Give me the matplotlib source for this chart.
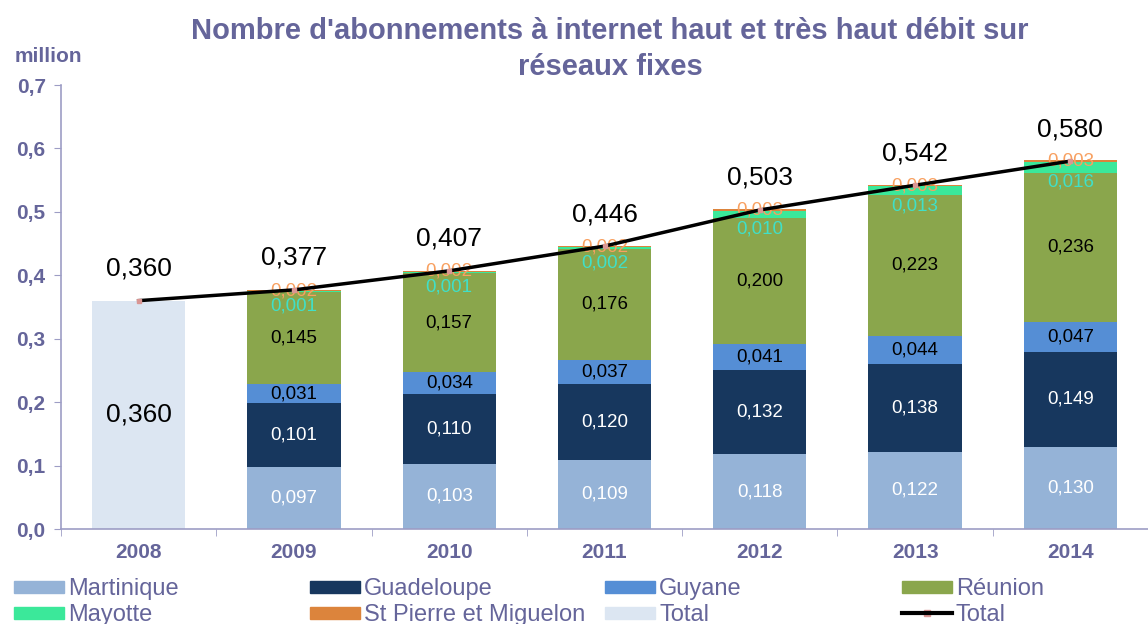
import matplotlib
matplotlib.use("Agg")
import matplotlib.pyplot as plt
from matplotlib.patches import Rectangle
from matplotlib.lines import Line2D
from matplotlib import font_manager
import numpy as np

plt.rcParams['font.family'] = ['Liberation Sans', 'DejaVu Sans']

years = ['2008', '2009', '2010', '2011', '2012', '2013', '2014']
total_2008 = 0.360
martinique = [0.097, 0.103, 0.109, 0.118, 0.122, 0.130]
guadeloupe = [0.101, 0.110, 0.120, 0.132, 0.138, 0.149]
guyane = [0.031, 0.034, 0.037, 0.041, 0.044, 0.047]
reunion = [0.145, 0.157, 0.176, 0.200, 0.223, 0.236]
mayotte = [0.001, 0.001, 0.002, 0.010, 0.013, 0.016]
spm = [0.002, 0.002, 0.002, 0.003, 0.003, 0.003]
total_line = [0.360, 0.377, 0.407, 0.446, 0.503, 0.542, 0.580]
legend_labels = ['Martinique', 'Guadeloupe', 'Guyane', 'Réunion',
                 'Mayotte', 'St Pierre et Miguelon', 'Total', 'Total']

c_mart = '#95B3D7'
c_guad = '#17375E'
c_guy = '#558ED5'
c_reu = '#8AA64C'
c_may = '#3BE89A'
c_spm = '#DC843C'
c_tot = '#DCE6F2'
purple = '#65659A'

names = {f.name for f in font_manager.fontManager.ttflist}
narrow = 'Liberation Sans Narrow' if 'Liberation Sans Narrow' in names else 'Liberation Sans'

fig = plt.figure(figsize=(11.48, 6.24), dpi=100)
ax = fig.add_axes([61/1148, (624-529)/624, (1148-61)/1148, (529-85)/624])

x = np.arange(len(years))
xs = x[1:]
w = 0.6

def fmt(v):
    return f"{v:.3f}".replace('.', ',')

ax.bar(x[0], total_2008, width=w, color=c_tot, zorder=2)
ax.text(x[0], 0.18, fmt(total_2008), ha='center', va='center', fontsize=19, color='black', zorder=5)

series = [
    (martinique, c_mart, 'white'),
    (guadeloupe, c_guad, 'white'),
    (guyane, c_guy, 'black'),
    (reunion, c_reu, 'black'),
    (mayotte, c_may, '#40E0C8'),
    (spm, c_spm, '#F8A060'),
]
bottom = np.zeros(len(xs))
for idx, (vals, col, tcol) in enumerate(series):
    vals = np.array(vals)
    ax.bar(xs, vals, width=w, bottom=bottom, color=col, zorder=2)
    for xi, b, v in zip(xs, bottom, vals):
        yc = b + v / 2
        if idx == 4:
            ax.annotate(fmt(v), (xi, yc), xytext=(0, -15), textcoords='offset pixels',
                        ha='center', va='center', fontsize=13.5, color=tcol, zorder=4)
        else:
            ax.text(xi, yc, fmt(v), ha='center', va='center', fontsize=13.5, color=tcol, zorder=4)
    bottom = bottom + vals

ax.plot(x, total_line, color='black', lw=2.5, zorder=6, marker='s', markersize=3,
        markerfacecolor='#D99694', markeredgecolor='#D99694')
for xi, v in zip(x, total_line):
    ax.annotate(fmt(v), (xi, v), xytext=(0, 32), textcoords='offset pixels',
                ha='center', va='center', fontsize=19, color='black', zorder=7)

ax.set_ylim(0, 0.7)
ax.set_xlim(-0.5, -0.5 + (1148 - 61) / 156.8)
yt = np.arange(0, 0.71, 0.1)
ax.set_yticks(yt)
ax.set_yticklabels([f"{v:.1f}".replace('.', ',') for v in yt],
                   fontsize=15, fontweight='bold', color=purple)
ax.set_xticks(x)
ax.set_xticklabels(years, fontsize=15, fontweight='bold', color=purple)
ax.set_xticks(np.arange(-0.5, 7, 1), minor=True)
ax.tick_params(axis='x', which='major', length=0, pad=10)
ax.tick_params(axis='x', which='minor', length=5, color='#9D9DC5', direction='out')
ax.tick_params(axis='y', length=5, color='#9D9DC5', direction='out', pad=6)
for s in ['top', 'right']:
    ax.spines[s].set_visible(False)
for s in ['left', 'bottom']:
    ax.spines[s].set_color('#9D9DC5')
    ax.spines[s].set_linewidth(1.2)

fig.text(15/1148, 1 - 57/624, 'million', fontsize=15, fontweight='bold', color=purple, ha='left', va='center')
fig.text(610/1148, 1 - 49/624, "Nombre d'abonnements à internet haut et très haut débit sur\nréseaux fixes",
         fontsize=21, fontweight='bold', color=purple, ha='center', va='center', linespacing=1.35)

# legend (manual placement, row-major as in the reference)
legend_colors = [c_mart, c_guad, c_guy, c_reu, c_may, c_spm, c_tot, None]
col_x = [14, 310, 605, 902]
row_y = [587, 613]
for i, (lab, col) in enumerate(zip(legend_labels, legend_colors)):
    r, c = divmod(i, 4)
    px, py = col_x[c], row_y[r]
    if col is not None:
        fig.patches.append(Rectangle((px / 1148, 1 - (py + 6) / 624), 50 / 1148, 12 / 624,
                                     transform=fig.transFigure, color=col, figure=fig))
    else:
        fig.lines.append(Line2D([px / 1148, (px + 50) / 1148], [1 - py / 624, 1 - py / 624],
                                transform=fig.transFigure, color='black', lw=3, figure=fig))
        fig.patches.append(Rectangle(((px + 22) / 1148, 1 - (py + 3) / 624), 6 / 1148, 6 / 624,
                                     transform=fig.transFigure, color='#D99694', figure=fig))
    fig.text((px + 54) / 1148, 1 - (py + 2) / 624, lab, fontsize=17, color=purple,
             family=[narrow, 'DejaVu Sans'], ha='left', va='center')

fig.savefig('out.png', dpi=100)
